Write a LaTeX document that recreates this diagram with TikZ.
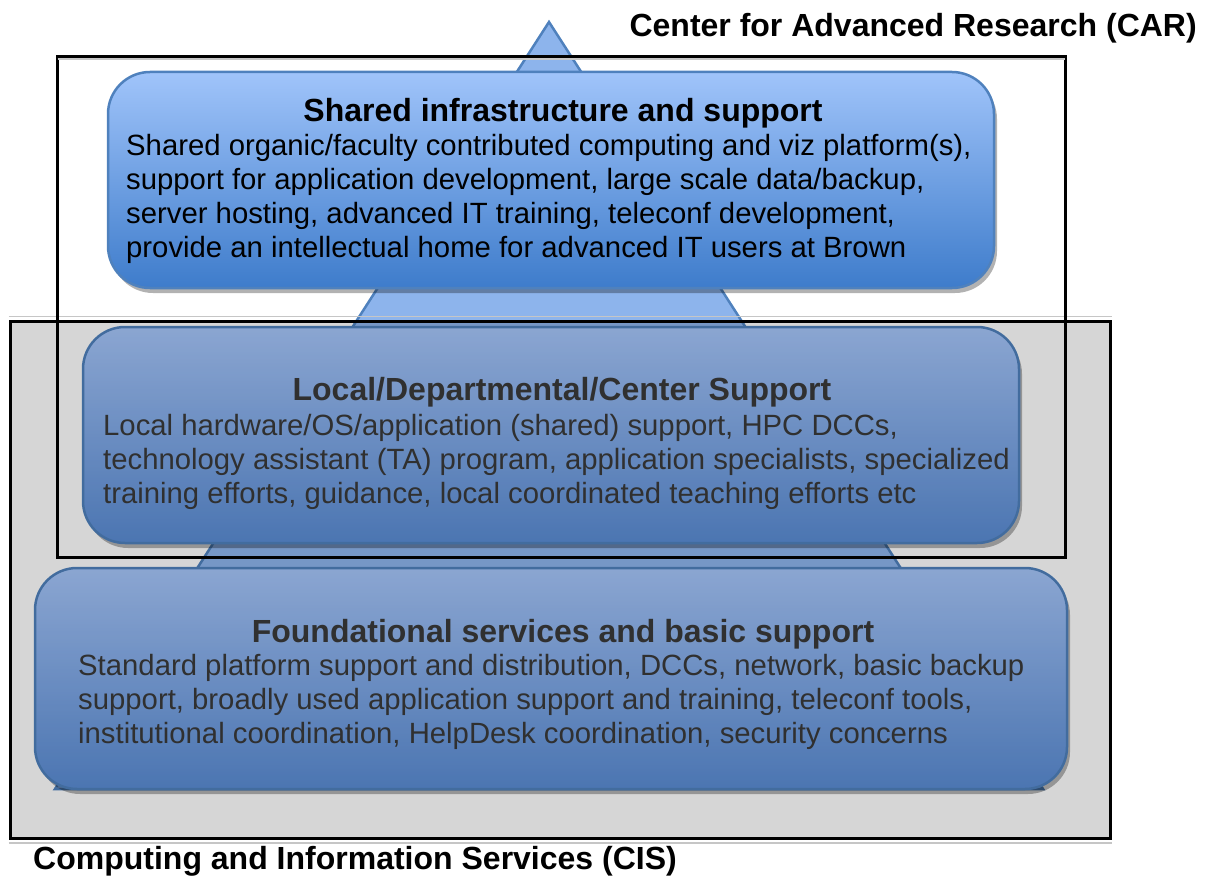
\documentclass[tikz,border=0pt]{standalone}
\usepackage{fontspec}
\setmainfont{Liberation Sans}
\usetikzlibrary{shadows}
\definecolor{triFill}{HTML}{8DB4EC}
\definecolor{triEdge}{HTML}{4F81BD}
\definecolor{boxEdge}{HTML}{4F81BD}
\definecolor{topA}{HTML}{A0C4FA}
\definecolor{topB}{HTML}{3E7CCB}
\definecolor{lowA}{HTML}{A6C6FA}
\definecolor{lowB}{HTML}{5A8CD4}
\definecolor{lowText}{HTML}{3A3A3A}
\newcommand{\mybodyfont}{\fontsize{29.3}{34}\selectfont}
\newcommand{\myheadfont}{\fontsize{32}{34}\selectfont\bfseries}
\begin{document}
\begin{tikzpicture}[x=1pt,y=-1pt,
  tier/.style={draw=boxEdge, line width=2.5pt, rounded corners=42pt, inner sep=0pt,
    drop shadow={shadow xshift=3pt, shadow yshift=-5pt, fill=black, opacity=0.3}},
  toptier/.style={tier, top color=topA, bottom color=topB},
  lowtier/.style={tier, top color=lowA, bottom color=lowB},
  headtext/.style={inner sep=0pt, anchor=base, font=\myheadfont},
  bodytext/.style={inner sep=0pt, anchor=base west, font=\mybodyfont},
  lowcol/.style={text=lowText},
  outline/.style={draw=black, line width=3pt, inner sep=0pt},
  framelabel/.style={inner sep=0pt, font=\myheadfont}
]
\useasboundingbox (0,0) rectangle (1212,877);
% pyramid
\coordinate (apex) at (549,22);
\coordinate (bl) at (55,789);
\coordinate (br) at (1043,789);
\draw[fill=triFill, draw=triEdge, line width=2.5pt] (apex) -- (bl) -- (br) -- cycle;
% tiers
\node[toptier, minimum width=886pt, minimum height=216pt] (topbox) at (551,180) {};
\node[lowtier, minimum width=936pt, minimum height=216pt] (midbox) at (551,435) {};
\node[lowtier, minimum width=1032pt, minimum height=221pt] (basebox) at (551,678.5) {};
% texts
\node[headtext] (toptitle) at (563,122) {Shared infrastructure and support};
\node[bodytext] (topbody) at (126,156) {\vtop{\hbox{Shared organic/faculty contributed computing and viz platform(s),}\hbox{support for application development, large scale data/backup,}\hbox{server hosting, advanced IT training, teleconf development,}\hbox{provide an intellectual home for advanced IT users at Brown}}};
\node[headtext, lowcol] (midtitle) at (562,400) {Local/Departmental/Center Support};
\node[bodytext, lowcol] (midbody) at (103,435) {\vtop{\hbox{Local hardware/OS/application (shared) support, HPC DCCs,}\hbox{technology assistant (TA) program, application specialists, specialized}\hbox{training efforts, guidance, local coordinated teaching efforts etc}}};
\node[headtext, lowcol] (basetitle) at (563,642) {Foundational services and basic support};
\node[bodytext, lowcol] (basebody) at (78,675) {\vtop{\hbox{Standard platform support and distribution, DCCs, network, basic backup}\hbox{support, broadly used application support and training, teleconf tools,}\hbox{institutional coordination, HelpDesk coordination, security concerns}}};
% frames
\node[outline, fill=black, fill opacity=0.16, minimum width=1100pt, minimum height=517pt] (cis) at (560,579.5) {};
\draw[gray!45, line width=1.5pt] ([yshift=3pt]cis.north west) -- ([yshift=3pt]cis.north east);
\draw[gray!45, line width=1.5pt] ([yshift=-3.5pt]cis.south west) -- ([yshift=-3.5pt]cis.south east);
\node[outline, minimum width=1008pt, minimum height=500pt] (car) at (561,307) {};
\draw[gray!45, line width=1.5pt] ([shift={(2pt,-3.5pt)}]car.north west) -- ([shift={(-2pt,-3.5pt)}]car.north east);
% labels
\node[framelabel, anchor=base east] (carlabel) at (1197,37) {Center for Advanced Research (CAR)};
\node[framelabel, anchor=base west] (cislabel) at (33,869) {Computing and Information Services (CIS)};
\end{tikzpicture}
\end{document}
